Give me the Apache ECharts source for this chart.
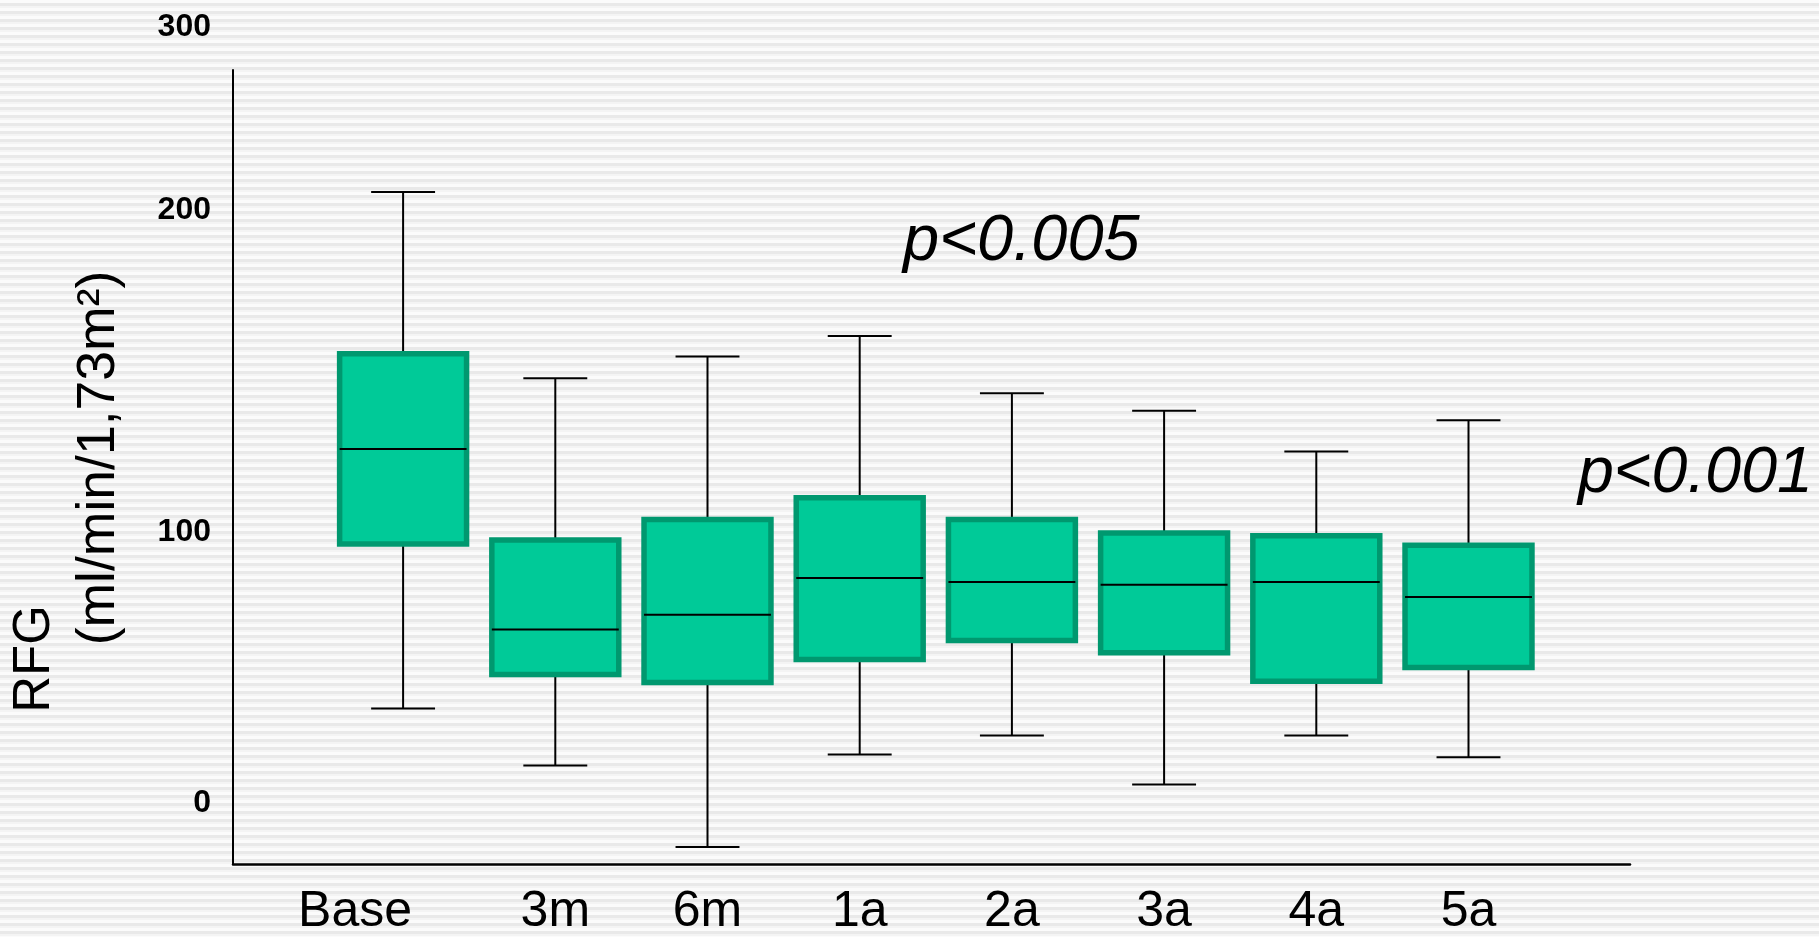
<!DOCTYPE html>
<html>
<head>
<meta charset="utf-8">
<script src="https://cdn.jsdelivr.net/npm/echarts@6/dist/echarts.min.js"></script>
<style>
  html, body { margin: 0; padding: 0; }
  #chart {
    width: 1819px; height: 937px;
    background: repeating-linear-gradient(to bottom,
      #fbfbfb 0px, #fbfbfb 3px,
      #e9e9e9 3px, #e9e9e9 6px,
      #f4f4f4 6px, #f4f4f4 8px);
  }
</style>
</head>
<body>
<div id="chart"></div>
<script>
// ---- data ----
const categories  = ['Base', '3m', '6m', '1a', '2a', '3a', '4a', '5a'];
const whiskerLow  = [35, 14, -16, 18, 25, 7, 25, 17];
const q1          = [95.5, 47.5, 44.5, 53, 60, 55.5, 45, 50];
const median      = [130.5, 64, 69.5, 83, 81.5, 80.5, 81.5, 76];
const q3          = [165.5, 97, 104.5, 112.5, 104.5, 99.5, 98.5, 95];
const whiskerHigh = [225, 156.5, 164.5, 172, 151, 144.5, 129.5, 141];
const yTickLabels = ['0', '100', '200', '300'];
const yTitle1 = 'RFG';
const yTitle2 = '(ml/min/1,73m²)';
const pNote1 = 'p<0.005';
const pNote2 = 'p<0.001';

const boxData = categories.map((c, i) => [i, whiskerLow[i], q1[i], median[i], q3[i], whiskerHigh[i]]);

const FONT = '"Liberation Sans", Arial, Helvetica, sans-serif';
const BOX_FILL = '#00CA98';
const BOX_BORDER = '#00986F';
// where the printed tick labels sit on the value scale (they are irregular in the original)
const labelAnchors = [0, 100, 218.3, 285.8];

function renderItem(params, api) {
  const idx = api.value(0);
  const lo = api.coord([idx, api.value(1)]);
  const b1 = api.coord([idx, api.value(2)]);
  const md = api.coord([idx, api.value(3)]);
  const b3 = api.coord([idx, api.value(4)]);
  const hi = api.coord([idx, api.value(5)]);
  const band = api.size([1, 0])[0];
  const bw = band * 0.834;
  const cw = band * 0.42;
  const x = lo[0];
  const ls = { stroke: '#000', lineWidth: 2 };
  return {
    type: 'group',
    children: [
      { type: 'line', shape: { x1: x, y1: b3[1], x2: x, y2: hi[1] }, style: ls },
      { type: 'line', shape: { x1: x - cw / 2, y1: hi[1], x2: x + cw / 2, y2: hi[1] }, style: ls },
      { type: 'line', shape: { x1: x, y1: b1[1], x2: x, y2: lo[1] }, style: ls },
      { type: 'line', shape: { x1: x - cw / 2, y1: lo[1], x2: x + cw / 2, y2: lo[1] }, style: ls },
      { type: 'rect', shape: { x: x - bw / 2, y: b3[1], width: bw, height: b1[1] - b3[1] },
        style: { fill: BOX_FILL, stroke: BOX_BORDER, lineWidth: 5.5 } },
      { type: 'line', shape: { x1: x - bw / 2, y1: md[1], x2: x + bw / 2, y2: md[1] }, style: ls }
    ]
  };
}

function nearestLabel(v) {
  let best = 0;
  for (let i = 1; i < labelAnchors.length; i++) {
    if (Math.abs(labelAnchors[i] - v) < Math.abs(labelAnchors[best] - v)) best = i;
  }
  return yTickLabels[best];
}

const chart = echarts.init(document.getElementById('chart'), null, { renderer: 'canvas' });
const option = {
  backgroundColor: 'transparent',
  animation: false,
  grid: [
    { left: 327, width: 1217.6, top: 0, height: 864, containLabel: false },
    { left: 233, width: 1397, top: 70, height: 794, containLabel: false }
  ],
  xAxis: [
    {
      type: 'category', gridIndex: 0, data: categories, boundaryGap: true,
      axisLine: { show: false }, axisTick: { show: false }, splitLine: { show: false },
      axisLabel: {
        margin: 27, color: '#000', fontSize: 50, fontFamily: FONT, interval: 0,
        formatter: (v, i) => i === 0 ? '{shift|' + v + '}' : v,
        rich: { shift: { fontSize: 50, fontFamily: FONT, color: '#000', padding: [0, 96, 0, 0] } }
      }
    },
    {
      type: 'value', gridIndex: 1, min: 0, max: 1,
      axisLine: { show: true, onZero: false, lineStyle: { color: '#000', width: 2.5 } },
      axisTick: { show: false }, axisLabel: { show: false }, splitLine: { show: false }
    }
  ],
  yAxis: [
    {
      type: 'value', gridIndex: 0, min: -20.8, max: 295.7,
      axisLine: { show: false }, axisTick: { show: false }, splitLine: { show: false },
      axisLabel: {
        show: true, margin: 116, color: '#000', fontSize: 32, fontWeight: 'bold', fontFamily: FONT,
        customValues: labelAnchors,
        formatter: (v) => nearestLabel(v)
      }
    },
    {
      type: 'value', gridIndex: 1, min: 0, max: 1,
      axisLine: { show: true, onZero: false, lineStyle: { color: '#000', width: 2 } },
      axisTick: { show: false }, axisLabel: { show: false }, splitLine: { show: false }
    }
  ],
  graphic: [
    { type: 'text', x: 35, y: 659, rotation: Math.PI / 2,
      style: { text: yTitle1, fontSize: 51, fontFamily: FONT, fill: '#000', align: 'center', verticalAlign: 'middle' } },
    { type: 'text', x: 99, y: 458, rotation: Math.PI / 2,
      style: { text: yTitle2, fontSize: 53.5, fontFamily: FONT, fill: '#000', align: 'center', verticalAlign: 'middle' } },
    { type: 'text', x: 903, y: 242,
      style: { text: pNote1, fontSize: 65, fontStyle: 'italic', fontFamily: FONT, fill: '#000', align: 'left', verticalAlign: 'middle' } },
    { type: 'text', x: 1578, y: 474,
      style: { text: pNote2, fontSize: 64.5, fontStyle: 'italic', fontFamily: FONT, fill: '#000', align: 'left', verticalAlign: 'middle' } }
  ],
  series: [
    {
      type: 'custom', xAxisIndex: 0, yAxisIndex: 0,
      renderItem: renderItem,
      encode: { x: 0, y: [1, 2, 3, 4, 5] },
      data: boxData,
      clip: false
    }
  ]
};
chart.setOption(option);
</script>
</body>
</html>
